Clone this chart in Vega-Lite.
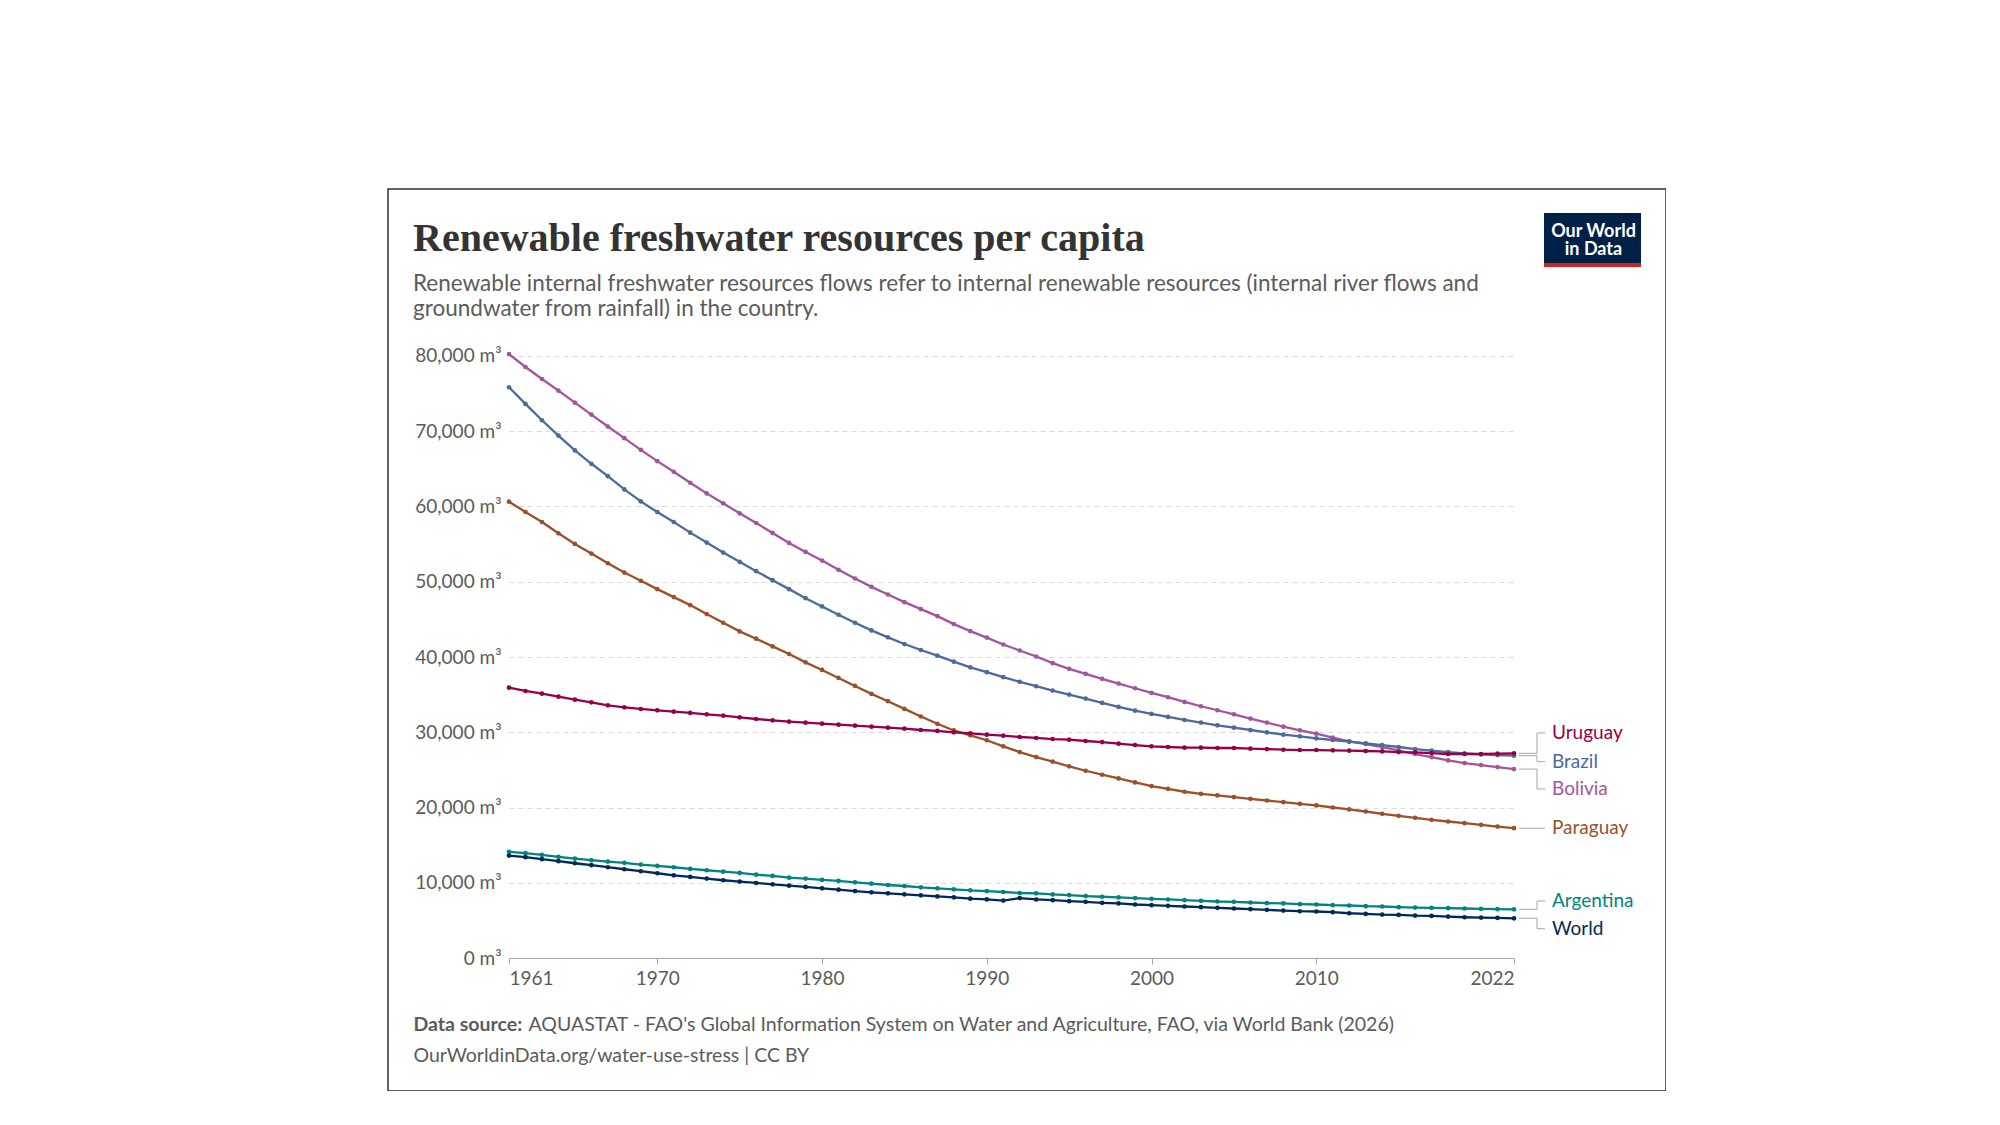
{
  "$schema": "https://vega.github.io/schema/vega-lite/v6.json",
  "autosize": {"type": "none"},
  "padding": {"left": 388, "top": 189, "right": 0, "bottom": 0},
  "width": 1278,
  "height": 902,
  "background": "white",
  "config": {
    "view": {"stroke": "#2f2f2f", "strokeWidth": 1.5},
    "font": "Lato"
  },
  "title": {
    "text": "Renewable freshwater resources per capita",
    "subtitle": ["Renewable internal freshwater resources flows refer to internal renewable resources (internal river flows and", "groundwater from rainfall) in the country."],
    "anchor": "start",
    "frame": "group",
    "orient": "top",
    "dx": 25,
    "offset": -131.5,
    "baseline": "top",
    "font": "Liberation Serif",
    "fontSize": 40,
    "fontWeight": "bold",
    "color": "#333333",
    "subtitleFont": "Lato",
    "subtitleFontSize": 22.5,
    "subtitleColor": "#5b5b5b",
    "subtitleLineHeight": 25.5,
    "subtitlePadding": 13.5
  },
  "datasets": {
    "labels": [
      {"country": "Uruguay", "labelValue": 29920},
      {"country": "Brazil", "labelValue": 26110},
      {"country": "Bolivia", "labelValue": 22480},
      {"country": "Paraguay", "labelValue": 17270},
      {"country": "Argentina", "labelValue": 7610},
      {"country": "World", "labelValue": 3930}
    ],
    "series": [
      {"country":"Bolivia","year":1961,"value":80220},{"country":"Bolivia","year":1962,"value":78500},{"country":"Bolivia","year":1963,"value":76910},{"country":"Bolivia","year":1964,"value":75360},{"country":"Bolivia","year":1965,"value":73770},{"country":"Bolivia","year":1966,"value":72180},{"country":"Bolivia","year":1967,"value":70600},{"country":"Bolivia","year":1968,"value":69050},{"country":"Bolivia","year":1969,"value":67500},{"country":"Bolivia","year":1970,"value":66000},
      {"country":"Bolivia","year":1971,"value":64590},{"country":"Bolivia","year":1972,"value":63130},{"country":"Bolivia","year":1973,"value":61720},{"country":"Bolivia","year":1974,"value":60400},{"country":"Bolivia","year":1975,"value":59070},{"country":"Bolivia","year":1976,"value":57790},{"country":"Bolivia","year":1977,"value":56470},{"country":"Bolivia","year":1978,"value":55140},{"country":"Bolivia","year":1979,"value":53950},{"country":"Bolivia","year":1980,"value":52800},
      {"country":"Bolivia","year":1981,"value":51570},{"country":"Bolivia","year":1982,"value":50420},{"country":"Bolivia","year":1983,"value":49310},{"country":"Bolivia","year":1984,"value":48300},{"country":"Bolivia","year":1985,"value":47280},{"country":"Bolivia","year":1986,"value":46360},{"country":"Bolivia","year":1987,"value":45430},{"country":"Bolivia","year":1988,"value":44370},{"country":"Bolivia","year":1989,"value":43440},{"country":"Bolivia","year":1990,"value":42580},
      {"country":"Bolivia","year":1991,"value":41660},{"country":"Bolivia","year":1992,"value":40860},{"country":"Bolivia","year":1993,"value":40070},{"country":"Bolivia","year":1994,"value":39180},{"country":"Bolivia","year":1995,"value":38430},{"country":"Bolivia","year":1996,"value":37760},{"country":"Bolivia","year":1997,"value":37100},{"country":"Bolivia","year":1998,"value":36470},{"country":"Bolivia","year":1999,"value":35850},{"country":"Bolivia","year":2000,"value":35230},
      {"country":"Bolivia","year":2001,"value":34660},{"country":"Bolivia","year":2002,"value":34040},{"country":"Bolivia","year":2003,"value":33460},{"country":"Bolivia","year":2004,"value":32930},{"country":"Bolivia","year":2005,"value":32390},{"country":"Bolivia","year":2006,"value":31820},{"country":"Bolivia","year":2007,"value":31290},{"country":"Bolivia","year":2008,"value":30750},{"country":"Bolivia","year":2009,"value":30270},{"country":"Bolivia","year":2010,"value":29820},
      {"country":"Bolivia","year":2011,"value":29290},{"country":"Bolivia","year":2012,"value":28800},{"country":"Bolivia","year":2013,"value":28450},{"country":"Bolivia","year":2014,"value":28050},{"country":"Bolivia","year":2015,"value":27610},{"country":"Bolivia","year":2016,"value":27120},{"country":"Bolivia","year":2017,"value":26720},{"country":"Bolivia","year":2018,"value":26270},{"country":"Bolivia","year":2019,"value":25920},{"country":"Bolivia","year":2020,"value":25650},{"country":"Bolivia","year":2021,"value":25390},{"country":"Bolivia","year":2022,"value":25120},

      {"country":"Brazil","year":1961,"value":75810},{"country":"Brazil","year":1962,"value":73600},{"country":"Brazil","year":1963,"value":71430},{"country":"Brazil","year":1964,"value":69400},{"country":"Brazil","year":1965,"value":67420},{"country":"Brazil","year":1966,"value":65650},{"country":"Brazil","year":1967,"value":64010},{"country":"Brazil","year":1968,"value":62250},{"country":"Brazil","year":1969,"value":60660},{"country":"Brazil","year":1970,"value":59250},
      {"country":"Brazil","year":1971,"value":57920},{"country":"Brazil","year":1972,"value":56510},{"country":"Brazil","year":1973,"value":55190},{"country":"Brazil","year":1974,"value":53860},{"country":"Brazil","year":1975,"value":52630},{"country":"Brazil","year":1976,"value":51390},{"country":"Brazil","year":1977,"value":50200},{"country":"Brazil","year":1978,"value":49010},{"country":"Brazil","year":1979,"value":47810},{"country":"Brazil","year":1980,"value":46710},
      {"country":"Brazil","year":1981,"value":45610},{"country":"Brazil","year":1982,"value":44550},{"country":"Brazil","year":1983,"value":43530},{"country":"Brazil","year":1984,"value":42610},{"country":"Brazil","year":1985,"value":41720},{"country":"Brazil","year":1986,"value":40930},{"country":"Brazil","year":1987,"value":40180},{"country":"Brazil","year":1988,"value":39380},{"country":"Brazil","year":1989,"value":38630},{"country":"Brazil","year":1990,"value":37980},
      {"country":"Brazil","year":1991,"value":37320},{"country":"Brazil","year":1992,"value":36700},{"country":"Brazil","year":1993,"value":36120},{"country":"Brazil","year":1994,"value":35540},{"country":"Brazil","year":1995,"value":35010},{"country":"Brazil","year":1996,"value":34480},{"country":"Brazil","year":1997,"value":33900},{"country":"Brazil","year":1998,"value":33370},{"country":"Brazil","year":1999,"value":32880},{"country":"Brazil","year":2000,"value":32440},
      {"country":"Brazil","year":2001,"value":32040},{"country":"Brazil","year":2002,"value":31640},{"country":"Brazil","year":2003,"value":31290},{"country":"Brazil","year":2004,"value":30930},{"country":"Brazil","year":2005,"value":30620},{"country":"Brazil","year":2006,"value":30310},{"country":"Brazil","year":2007,"value":30000},{"country":"Brazil","year":2008,"value":29690},{"country":"Brazil","year":2009,"value":29470},{"country":"Brazil","year":2010,"value":29200},
      {"country":"Brazil","year":2011,"value":28980},{"country":"Brazil","year":2012,"value":28760},{"country":"Brazil","year":2013,"value":28540},{"country":"Brazil","year":2014,"value":28310},{"country":"Brazil","year":2015,"value":28050},{"country":"Brazil","year":2016,"value":27780},{"country":"Brazil","year":2017,"value":27560},{"country":"Brazil","year":2018,"value":27380},{"country":"Brazil","year":2019,"value":27210},{"country":"Brazil","year":2020,"value":27070},{"country":"Brazil","year":2021,"value":26980},{"country":"Brazil","year":2022,"value":26900},

      {"country":"Paraguay","year":1961,"value":60620},{"country":"Paraguay","year":1962,"value":59250},{"country":"Paraguay","year":1963,"value":57920},{"country":"Paraguay","year":1964,"value":56420},{"country":"Paraguay","year":1965,"value":55010},{"country":"Paraguay","year":1966,"value":53730},{"country":"Paraguay","year":1967,"value":52450},{"country":"Paraguay","year":1968,"value":51210},{"country":"Paraguay","year":1969,"value":50110},{"country":"Paraguay","year":1970,"value":49010},
      {"country":"Paraguay","year":1971,"value":47950},{"country":"Paraguay","year":1972,"value":46890},{"country":"Paraguay","year":1973,"value":45700},{"country":"Paraguay","year":1974,"value":44550},{"country":"Paraguay","year":1975,"value":43400},{"country":"Paraguay","year":1976,"value":42430},{"country":"Paraguay","year":1977,"value":41410},{"country":"Paraguay","year":1978,"value":40400},{"country":"Paraguay","year":1979,"value":39290},{"country":"Paraguay","year":1980,"value":38280},
      {"country":"Paraguay","year":1981,"value":37220},{"country":"Paraguay","year":1982,"value":36160},{"country":"Paraguay","year":1983,"value":35100},{"country":"Paraguay","year":1984,"value":34130},{"country":"Paraguay","year":1985,"value":33110},{"country":"Paraguay","year":1986,"value":32100},{"country":"Paraguay","year":1987,"value":31130},{"country":"Paraguay","year":1988,"value":30250},{"country":"Paraguay","year":1989,"value":29600},{"country":"Paraguay","year":1990,"value":28950},
      {"country":"Paraguay","year":1991,"value":28140},{"country":"Paraguay","year":1992,"value":27380},{"country":"Paraguay","year":1993,"value":26720},{"country":"Paraguay","year":1994,"value":26100},{"country":"Paraguay","year":1995,"value":25480},{"country":"Paraguay","year":1996,"value":24900},{"country":"Paraguay","year":1997,"value":24370},{"country":"Paraguay","year":1998,"value":23880},{"country":"Paraguay","year":1999,"value":23350},{"country":"Paraguay","year":2000,"value":22860},
      {"country":"Paraguay","year":2001,"value":22500},{"country":"Paraguay","year":2002,"value":22110},{"country":"Paraguay","year":2003,"value":21840},{"country":"Paraguay","year":2004,"value":21620},{"country":"Paraguay","year":2005,"value":21400},{"country":"Paraguay","year":2006,"value":21170},{"country":"Paraguay","year":2007,"value":20950},{"country":"Paraguay","year":2008,"value":20730},{"country":"Paraguay","year":2009,"value":20510},{"country":"Paraguay","year":2010,"value":20290},
      {"country":"Paraguay","year":2011,"value":20020},{"country":"Paraguay","year":2012,"value":19760},{"country":"Paraguay","year":2013,"value":19490},{"country":"Paraguay","year":2014,"value":19180},{"country":"Paraguay","year":2015,"value":18910},{"country":"Paraguay","year":2016,"value":18650},{"country":"Paraguay","year":2017,"value":18380},{"country":"Paraguay","year":2018,"value":18160},{"country":"Paraguay","year":2019,"value":17940},{"country":"Paraguay","year":2020,"value":17720},{"country":"Paraguay","year":2021,"value":17490},{"country":"Paraguay","year":2022,"value":17270},

      {"country":"Uruguay","year":1961,"value":35930},{"country":"Uruguay","year":1962,"value":35490},{"country":"Uruguay","year":1963,"value":35130},{"country":"Uruguay","year":1964,"value":34730},{"country":"Uruguay","year":1965,"value":34340},{"country":"Uruguay","year":1966,"value":33980},{"country":"Uruguay","year":1967,"value":33580},{"country":"Uruguay","year":1968,"value":33320},{"country":"Uruguay","year":1969,"value":33100},{"country":"Uruguay","year":1970,"value":32920},
      {"country":"Uruguay","year":1971,"value":32740},{"country":"Uruguay","year":1972,"value":32570},{"country":"Uruguay","year":1973,"value":32390},{"country":"Uruguay","year":1974,"value":32210},{"country":"Uruguay","year":1975,"value":31990},{"country":"Uruguay","year":1976,"value":31770},{"country":"Uruguay","year":1977,"value":31590},{"country":"Uruguay","year":1978,"value":31420},{"country":"Uruguay","year":1979,"value":31280},{"country":"Uruguay","year":1980,"value":31150},
      {"country":"Uruguay","year":1981,"value":31020},{"country":"Uruguay","year":1982,"value":30880},{"country":"Uruguay","year":1983,"value":30750},{"country":"Uruguay","year":1984,"value":30620},{"country":"Uruguay","year":1985,"value":30490},{"country":"Uruguay","year":1986,"value":30310},{"country":"Uruguay","year":1987,"value":30180},{"country":"Uruguay","year":1988,"value":30000},{"country":"Uruguay","year":1989,"value":29870},{"country":"Uruguay","year":1990,"value":29690},
      {"country":"Uruguay","year":1991,"value":29560},{"country":"Uruguay","year":1992,"value":29380},{"country":"Uruguay","year":1993,"value":29250},{"country":"Uruguay","year":1994,"value":29110},{"country":"Uruguay","year":1995,"value":29020},{"country":"Uruguay","year":1996,"value":28850},{"country":"Uruguay","year":1997,"value":28710},{"country":"Uruguay","year":1998,"value":28490},{"country":"Uruguay","year":1999,"value":28310},{"country":"Uruguay","year":2000,"value":28140},
      {"country":"Uruguay","year":2001,"value":28050},{"country":"Uruguay","year":2002,"value":27960},{"country":"Uruguay","year":2003,"value":27960},{"country":"Uruguay","year":2004,"value":27920},{"country":"Uruguay","year":2005,"value":27920},{"country":"Uruguay","year":2006,"value":27830},{"country":"Uruguay","year":2007,"value":27780},{"country":"Uruguay","year":2008,"value":27690},{"country":"Uruguay","year":2009,"value":27650},{"country":"Uruguay","year":2010,"value":27650},
      {"country":"Uruguay","year":2011,"value":27610},{"country":"Uruguay","year":2012,"value":27560},{"country":"Uruguay","year":2013,"value":27520},{"country":"Uruguay","year":2014,"value":27470},{"country":"Uruguay","year":2015,"value":27380},{"country":"Uruguay","year":2016,"value":27340},{"country":"Uruguay","year":2017,"value":27250},{"country":"Uruguay","year":2018,"value":27120},{"country":"Uruguay","year":2019,"value":27120},{"country":"Uruguay","year":2020,"value":27120},{"country":"Uruguay","year":2021,"value":27160},{"country":"Uruguay","year":2022,"value":27210},

      {"country":"Argentina","year":1961,"value":14130},{"country":"Argentina","year":1962,"value":13960},{"country":"Argentina","year":1963,"value":13730},{"country":"Argentina","year":1964,"value":13470},{"country":"Argentina","year":1965,"value":13240},{"country":"Argentina","year":1966,"value":13020},{"country":"Argentina","year":1967,"value":12840},{"country":"Argentina","year":1968,"value":12670},{"country":"Argentina","year":1969,"value":12440},{"country":"Argentina","year":1970,"value":12270},
      {"country":"Argentina","year":1971,"value":12090},{"country":"Argentina","year":1972,"value":11870},{"country":"Argentina","year":1973,"value":11690},{"country":"Argentina","year":1974,"value":11510},{"country":"Argentina","year":1975,"value":11330},{"country":"Argentina","year":1976,"value":11110},{"country":"Argentina","year":1977,"value":10930},{"country":"Argentina","year":1978,"value":10710},{"country":"Argentina","year":1979,"value":10580},{"country":"Argentina","year":1980,"value":10400},
      {"country":"Argentina","year":1981,"value":10270},{"country":"Argentina","year":1982,"value":10090},{"country":"Argentina","year":1983,"value":9910},{"country":"Argentina","year":1984,"value":9730},{"country":"Argentina","year":1985,"value":9600},{"country":"Argentina","year":1986,"value":9420},{"country":"Argentina","year":1987,"value":9290},{"country":"Argentina","year":1988,"value":9160},{"country":"Argentina","year":1989,"value":9020},{"country":"Argentina","year":1990,"value":8930},
      {"country":"Argentina","year":1991,"value":8800},{"country":"Argentina","year":1992,"value":8670},{"country":"Argentina","year":1993,"value":8620},{"country":"Argentina","year":1994,"value":8480},{"country":"Argentina","year":1995,"value":8390},{"country":"Argentina","year":1996,"value":8260},{"country":"Argentina","year":1997,"value":8170},{"country":"Argentina","year":1998,"value":8080},{"country":"Argentina","year":1999,"value":7990},{"country":"Argentina","year":2000,"value":7900},
      {"country":"Argentina","year":2001,"value":7810},{"country":"Argentina","year":2002,"value":7720},{"country":"Argentina","year":2003,"value":7630},{"country":"Argentina","year":2004,"value":7540},{"country":"Argentina","year":2005,"value":7500},{"country":"Argentina","year":2006,"value":7410},{"country":"Argentina","year":2007,"value":7320},{"country":"Argentina","year":2008,"value":7280},{"country":"Argentina","year":2009,"value":7190},{"country":"Argentina","year":2010,"value":7140},
      {"country":"Argentina","year":2011,"value":7050},{"country":"Argentina","year":2012,"value":7010},{"country":"Argentina","year":2013,"value":6920},{"country":"Argentina","year":2014,"value":6880},{"country":"Argentina","year":2015,"value":6790},{"country":"Argentina","year":2016,"value":6740},{"country":"Argentina","year":2017,"value":6700},{"country":"Argentina","year":2018,"value":6650},{"country":"Argentina","year":2019,"value":6610},{"country":"Argentina","year":2020,"value":6560},{"country":"Argentina","year":2021,"value":6520},{"country":"Argentina","year":2022,"value":6500},

      {"country":"World","year":1961,"value":13640},{"country":"World","year":1962,"value":13420},{"country":"World","year":1963,"value":13160},{"country":"World","year":1964,"value":12890},{"country":"World","year":1965,"value":12620},{"country":"World","year":1966,"value":12360},{"country":"World","year":1967,"value":12090},{"country":"World","year":1968,"value":11820},{"country":"World","year":1969,"value":11560},{"country":"World","year":1970,"value":11290},
      {"country":"World","year":1971,"value":11020},{"country":"World","year":1972,"value":10800},{"country":"World","year":1973,"value":10580},{"country":"World","year":1974,"value":10360},{"country":"World","year":1975,"value":10180},{"country":"World","year":1976,"value":10000},{"country":"World","year":1977,"value":9820},{"country":"World","year":1978,"value":9640},{"country":"World","year":1979,"value":9470},{"country":"World","year":1980,"value":9290},
      {"country":"World","year":1981,"value":9110},{"country":"World","year":1982,"value":8930},{"country":"World","year":1983,"value":8760},{"country":"World","year":1984,"value":8620},{"country":"World","year":1985,"value":8490},{"country":"World","year":1986,"value":8360},{"country":"World","year":1987,"value":8220},{"country":"World","year":1988,"value":8090},{"country":"World","year":1989,"value":7910},{"country":"World","year":1990,"value":7820},
      {"country":"World","year":1991,"value":7660},{"country":"World","year":1992,"value":8000},{"country":"World","year":1993,"value":7810},{"country":"World","year":1994,"value":7720},{"country":"World","year":1995,"value":7590},{"country":"World","year":1996,"value":7500},{"country":"World","year":1997,"value":7370},{"country":"World","year":1998,"value":7280},{"country":"World","year":1999,"value":7140},{"country":"World","year":2000,"value":7050},
      {"country":"World","year":2001,"value":6960},{"country":"World","year":2002,"value":6880},{"country":"World","year":2003,"value":6790},{"country":"World","year":2004,"value":6700},{"country":"World","year":2005,"value":6610},{"country":"World","year":2006,"value":6520},{"country":"World","year":2007,"value":6430},{"country":"World","year":2008,"value":6340},{"country":"World","year":2009,"value":6250},{"country":"World","year":2010,"value":6210},
      {"country":"World","year":2011,"value":6120},{"country":"World","year":2012,"value":5980},{"country":"World","year":2013,"value":5890},{"country":"World","year":2014,"value":5800},{"country":"World","year":2015,"value":5760},{"country":"World","year":2016,"value":5670},{"country":"World","year":2017,"value":5630},{"country":"World","year":2018,"value":5540},{"country":"World","year":2019,"value":5450},{"country":"World","year":2020,"value":5400},{"country":"World","year":2021,"value":5360},{"country":"World","year":2022,"value":5310}
    ]
  },
  "resolve": {"axis": {"x": "independent", "y": "independent"}},
  "layer": [
    {
      "data": {"name": "series"},
      "mark": {"type": "line", "strokeWidth": 2.3, "clip": false},
      "encoding": {
        "x": {
          "field": "year", "type": "quantitative",
          "scale": {"domain": [1961, 2022], "range": [121, 1126], "nice": false, "zero": false},
          "axis": {
            "orient": "bottom", "offset": -133,
            "values": [1961, 1970, 1980, 1990, 2000, 2010, 2022], "format": "d",
            "labelFlush": true, "labelFontSize": 19, "labelColor": "#5b5b5b", "labelPadding": 5,
            "grid": false, "domain": true, "domainColor": "#a6a6a6", "domainWidth": 1,
            "ticks": true, "tickColor": "#a6a6a6", "tickSize": 6,
            "title": "OurWorldinData.org/water-use-stress | CC BY",
            "titleX": 25, "titleY": 97, "titleAlign": "left", "titleBaseline": "middle", "titleAngle": 0,
            "titleFontSize": 19.5, "titleFontWeight": "normal", "titleColor": "#5b5b5b", "titleFont": "Lato"
          }
        },
        "y": {
          "field": "value", "type": "quantitative",
          "scale": {"domain": [0, 80000], "range": [769.3, 166.7], "nice": false, "zero": true},
          "axis": {
            "orient": "left", "offset": -121,
            "values": [0, 10000, 20000, 30000, 40000, 50000, 60000, 70000, 80000],
            "labelExpr": "format(datum.value, ',') + ' m³'",
            "labelFontSize": 19, "labelColor": "#5b5b5b", "labelPadding": 8,
            "grid": true, "gridColor": "#dcdcdc", "gridDash": [5, 4], "gridWidth": 1,
            "domain": false, "ticks": false,
            "title": "AQUASTAT - FAO's Global Information System on Water and Agriculture, FAO, via World Bank (2026)",
            "titleX": 19, "titleY": 835, "titleAlign": "left", "titleBaseline": "middle", "titleAngle": 0,
            "titleFontSize": 19.5, "titleFontWeight": "normal", "titleColor": "#5b5b5b", "titleFont": "Lato"
          }
        },
        "color": {
          "field": "country", "type": "nominal",
          "scale": {"domain": ["Uruguay", "Brazil", "Bolivia", "Paraguay", "Argentina", "World"], "range": ["#970046", "#4C6A9C", "#A2559C", "#9A5129", "#00847E", "#00295B"]},
          "legend": null
        }
      }
    },
    {
      "data": {"name": "series"},
      "mark": {"type": "circle", "size": 22, "opacity": 1, "clip": false},
      "encoding": {
        "x": {
          "field": "year", "type": "quantitative",
          "axis": {
            "orient": "bottom", "offset": -133, "labels": false, "ticks": false, "domain": false, "grid": false,
            "title": "Data source:",
            "titleX": 25, "titleY": 66, "titleAlign": "left", "titleBaseline": "middle", "titleAngle": 0,
            "titleFontSize": 19.5, "titleFontWeight": "bold", "titleColor": "#5b5b5b", "titleFont": "Lato"
          }
        },
        "y": {
          "field": "value", "type": "quantitative",
          "axis": {
            "orient": "left", "labels": false, "ticks": false, "domain": false, "grid": false, "zindex": 2,
            "title": ["Our World", "in Data"],
            "titleX": 1205, "titleY": 42, "titleAlign": "center", "titleBaseline": "middle", "titleAngle": 0,
            "titleLineHeight": 18,
            "titleFontSize": 18, "titleFontWeight": "bold", "titleColor": "#ffffff", "titleFont": "Lato"
          }
        },
        "color": {"field": "country", "type": "nominal", "legend": null}
      }
    },
    {
      "data": {"name": "series"},
      "transform": [
        {"filter": "datum.year === 2022"},
        {"lookup": "country", "from": {"data": {"name": "labels"}, "key": "country", "fields": ["labelValue"]}}
      ],
      "layer": [
        {
          "mark": {"type": "rule", "color": "#a6a6a6", "strokeWidth": 1, "xOffset": 5, "x2Offset": 23},
          "encoding": {
            "x": {"datum": 2022, "type": "quantitative", "axis": null},
            "x2": {"datum": 2022},
            "y": {"field": "value", "type": "quantitative", "axis": null}
          }
        },
        {
          "mark": {"type": "rule", "color": "#a6a6a6", "strokeWidth": 1, "xOffset": 23},
          "encoding": {
            "x": {"datum": 2022, "type": "quantitative", "axis": null},
            "y": {"field": "value", "type": "quantitative", "axis": null},
            "y2": {"field": "labelValue"}
          }
        },
        {
          "mark": {"type": "rule", "color": "#a6a6a6", "strokeWidth": 1, "xOffset": 23, "x2Offset": 31},
          "encoding": {
            "x": {"datum": 2022, "type": "quantitative", "axis": null},
            "x2": {"datum": 2022},
            "y": {"field": "labelValue", "type": "quantitative", "axis": null}
          }
        },
        {
          "mark": {"type": "text", "align": "left", "baseline": "middle", "dx": 38, "fontSize": 19, "font": "Lato"},
          "encoding": {
            "x": {"datum": 2022, "type": "quantitative", "axis": null},
            "y": {"field": "labelValue", "type": "quantitative", "axis": null},
            "text": {"field": "country"},
            "color": {"field": "country", "type": "nominal", "legend": null}
          }
        }
      ]
    },
    {
      "data": {"values": [{"logo": "Our World in Data"}]},
      "layer": [
        {
          "mark": {"type": "rect", "color": "#002147"},
          "encoding": {"x": {"value": 1156}, "x2": {"value": 1253}, "y": {"value": 24}, "y2": {"value": 74}}
        },
        {
          "mark": {"type": "rect", "color": "#ce261e"},
          "encoding": {"x": {"value": 1156}, "x2": {"value": 1253}, "y": {"value": 74}, "y2": {"value": 78}}
        }
      ]
    }
  ]
}
